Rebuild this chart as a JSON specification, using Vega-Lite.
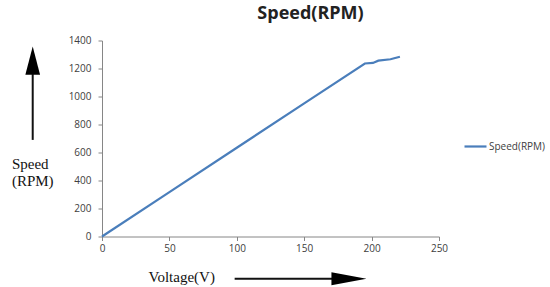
{
  "$schema": "https://vega.github.io/schema/vega-lite/v6.json",
  "autosize": "none",
  "width": 337,
  "height": 196,
  "padding": {"left": 102, "top": 40.5, "right": 111, "bottom": 50.5},
  "background": "white",
  "title": {
    "text": "Speed(RPM)",
    "font": "Open Sans",
    "fontSize": 18,
    "fontWeight": "bold",
    "color": "#222222",
    "anchor": "middle",
    "dx": 40,
    "offset": 13
  },
  "config": {"view": {"stroke": null}},
  "encoding": {
    "x": {
      "field": "Voltage", "type": "quantitative",
      "scale": {"domain": [0, 250], "nice": false},
      "axis": {
        "values": [0, 50, 100, 150, 200, 250],
        "format": "d", "labelOverlap": false, "labelFlush": false,
        "grid": false,
        "domainColor": "#868686", "tickColor": "#868686", "tickSize": 4,
        "labelColor": "#404040", "labelFont": "Open Sans", "labelFontSize": 10, "labelPadding": 3,
        "title": "Voltage(V)",
        "titleFont": "Liberation Serif", "titleFontSize": 15, "titleFontWeight": "normal",
        "titleColor": "#111111", "titleAlign": "left", "titleBaseline": "alphabetic",
        "titleAngle": 0, "titleX": 46, "titleY": 45
      }
    },
    "y": {
      "field": "Speed", "type": "quantitative",
      "scale": {"domain": [0, 1400], "nice": false},
      "axis": {
        "values": [0, 200, 400, 600, 800, 1000, 1200, 1400],
        "format": "d", "labelOverlap": false, "labelFlush": false,
        "grid": false,
        "domainColor": "#868686", "tickColor": "#868686", "tickSize": 4,
        "labelColor": "#404040", "labelFont": "Open Sans", "labelFontSize": 10, "labelPadding": 7,
        "title": ["Speed", "(RPM)"],
        "titleFont": "Liberation Serif", "titleFontSize": 15, "titleFontWeight": "normal",
        "titleColor": "#111111", "titleAlign": "left", "titleBaseline": "alphabetic",
        "titleAngle": 0, "titleX": -90.6, "titleY": 127.8, "titleLineHeight": 17.5
      }
    }
  },
  "layer": [
    {
      "data": {"values": [
        {"Voltage": 0, "Speed": 0, "series": "Speed(RPM)"},
        {"Voltage": 50, "Speed": 317, "series": "Speed(RPM)"},
        {"Voltage": 100, "Speed": 634, "series": "Speed(RPM)"},
        {"Voltage": 150, "Speed": 951, "series": "Speed(RPM)"},
        {"Voltage": 195, "Speed": 1236, "series": "Speed(RPM)"},
        {"Voltage": 201, "Speed": 1240, "series": "Speed(RPM)"},
        {"Voltage": 205, "Speed": 1256, "series": "Speed(RPM)"},
        {"Voltage": 214, "Speed": 1266, "series": "Speed(RPM)"},
        {"Voltage": 221, "Speed": 1284, "series": "Speed(RPM)"}
      ]},
      "mark": {"type": "line", "strokeWidth": 2.2},
      "encoding": {
        "color": {
          "field": "series", "type": "nominal",
          "scale": {"range": ["#4a7ebb"]},
          "legend": {
            "title": null, "orient": "none", "legendX": 361, "legendY": 93.5,
            "padding": 0, "symbolType": "stroke", "symbolSize": 484, "symbolStrokeWidth": 2.2,
            "labelFont": "Open Sans", "labelFontSize": 10, "labelColor": "#404040", "labelOffset": 1
          }
        }
      }
    },
    {
      "data": {"values": [
        {"Voltage": -51.4, "Speed": 690, "Voltage2": -51.4, "Speed2": 1160},
        {"Voltage": 98.4, "Speed": -302, "Voltage2": 172, "Speed2": -302}
      ]},
      "mark": {"type": "rule", "color": "#111111", "strokeWidth": 2},
      "encoding": {
        "x2": {"field": "Voltage2"},
        "y2": {"field": "Speed2"}
      }
    },
    {
      "data": {"values": [{"Voltage": -51.4, "Speed": 1256}]},
      "mark": {"type": "point", "shape": "M0,-1L0.52,1L-0.52,1Z", "filled": true, "color": "#000000", "opacity": 1, "size": 800}
    },
    {
      "data": {"values": [{"Voltage": 183.2, "Speed": -302}]},
      "mark": {"type": "point", "shape": "M1,0L-1,0.37L-1,-0.37Z", "filled": true, "color": "#000000", "opacity": 1, "size": 1225}
    }
  ]
}
